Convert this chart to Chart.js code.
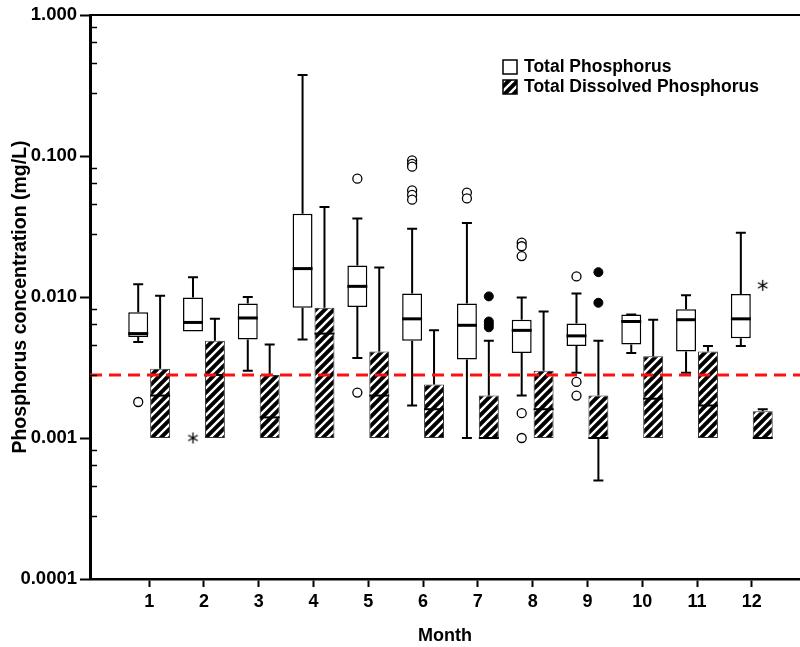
<!DOCTYPE html>
<html>
<head>
<meta charset="utf-8">
<title>Phosphorus concentration by month</title>
<script src="https://cdn.jsdelivr.net/npm/chart.js@4.4.1/dist/chart.umd.min.js"></script>
<style>
  html, body { margin: 0; padding: 0; background: #fff; }
  #wrap { width: 800px; height: 647px; position: relative; }
</style>
</head>
<body>
<div id="wrap"><canvas id="phosChart"></canvas></div>
<script>
/* global Chart */
const months = [1, 2, 3, 4, 5, 6, 7, 8, 9, 10, 11, 12];

// Total phosphorus box statistics (mg/L)
const tpMin = [0.0048, 0.0057, 0.0030, 0.0050, 0.0037, 0.0017, 0.0010, 0.0020, 0.0029, 0.0040, 0.0029, 0.0045];
const tpQ1  = [0.0052, 0.0057, 0.0050, 0.0084, 0.0085, 0.0049, 0.0036, 0.0040, 0.0045, 0.0046, 0.0041, 0.0051];
const tpMed = [0.0055, 0.0066, 0.0071, 0.0159, 0.0119, 0.0070, 0.0063, 0.0058, 0.0053, 0.0067, 0.0069, 0.0070];
const tpQ3  = [0.0078, 0.0099, 0.0090, 0.0390, 0.0167, 0.0106, 0.0090, 0.0069, 0.0065, 0.0075, 0.0082, 0.0105];
const tpMax = [0.0123, 0.0138, 0.0100, 0.3750, 0.0361, 0.0305, 0.0335, 0.0099, 0.0106, 0.0075, 0.0103, 0.0286];

// Total dissolved phosphorus box statistics (mg/L)
const tdpMin = [0.0010, 0.0010, 0.0010, 0.0010, 0.0010, 0.0010, 0.0010, 0.0010, 0.0005, 0.0010, 0.0010, 0.0010];
const tdpQ1  = [0.0010, 0.0010, 0.0010, 0.0010, 0.0010, 0.0010, 0.0010, 0.0010, 0.0010, 0.0010, 0.0010, 0.0010];
const tdpMed = [0.0020, 0.0028, 0.0014, 0.0055, 0.0020, 0.0016, 0.0010, 0.0016, 0.0010, 0.0019, 0.0017, 0.0010];
const tdpQ3  = [0.0031, 0.0049, 0.0028, 0.0084, 0.0041, 0.0024, 0.0020, 0.0030, 0.0020, 0.0038, 0.0041, 0.00155];
const tdpMax = [0.0102, 0.0070, 0.0046, 0.0435, 0.0162, 0.0058, 0.0049, 0.0079, 0.0049, 0.0069, 0.0045, 0.0016];

// outliers (circles) and extremes (stars), one list per month
const tpOutliers = [[0.0018], [], [], [], [0.069, 0.0021], [0.093, 0.088, 0.084, 0.057, 0.053, 0.049],
  [0.055, 0.050], [0.0243, 0.0229, 0.0195, 0.0015, 0.0010], [0.014, 0.0025, 0.0020], [], [], []];
const tpExtremes = [[], [0.0010], [], [], [], [], [], [], [], [], [], []];
const tdpOutliers = [[], [], [], [], [], [], [0.0101, 0.0067, 0.0064, 0.0061], [], [0.0150, 0.0091], [], [], []];
const tdpExtremes = [[], [], [], [], [], [], [], [], [], [], [], [0.0121]];

const threshold = 0.0028;

const yDecades = [0.0001, 0.001, 0.01, 0.1, 1];
const yDecadeLabels = ['0.0001', '0.001', '0.010', '0.100', '1.000'];
const yMinorSteps = [0.28, 0.46, 0.64, 0.82];

const X_MIN = -0.08;
const X_MAX = 12.88;
const SIDE = 0.2; // half distance between the paired boxes, in month units

const FONT = "'Liberation Sans', Arial, Helvetica, sans-serif";
Chart.defaults.font.family = FONT;
Chart.defaults.font.weight = 'bold';
Chart.defaults.color = '#000';

function hatchPattern() {
  const s = 9;
  const c = document.createElement('canvas');
  c.width = s; c.height = s;
  const g = c.getContext('2d');
  g.fillStyle = '#000';
  g.fillRect(0, 0, s, s);
  g.strokeStyle = '#fff';
  g.lineWidth = 2.4;
  g.beginPath();
  g.moveTo(-1, s + 1); g.lineTo(s + 1, -1);
  g.moveTo(-1, 1); g.lineTo(1, -1);
  g.moveTo(s - 1, s + 1); g.lineTo(s + 1, s - 1);
  g.stroke();
  return g.createPattern(c, 'repeat');
}
const hatch = hatchPattern();

// six-spoke asterisk used for extreme values
function asteriskMarker() {
  const s = 13;
  const c = document.createElement('canvas');
  c.width = s; c.height = s;
  const g = c.getContext('2d');
  const r = 5.5;
  g.strokeStyle = '#000';
  g.lineWidth = 1.3;
  g.beginPath();
  [90, 30, 150].forEach(a => {
    const t = a * Math.PI / 180;
    g.moveTo(s / 2 - r * Math.cos(t), s / 2 - r * Math.sin(t));
    g.lineTo(s / 2 + r * Math.cos(t), s / 2 + r * Math.sin(t));
  });
  g.stroke();
  return c;
}
const asterisk = asteriskMarker();

function pointsFor(lists, shift) {
  const pts = [];
  lists.forEach((vals, i) => vals.forEach(v => pts.push({ x: months[i] + shift, y: v })));
  return pts;
}

const yTicks = [];
yDecades.forEach((d, i) => {
  yTicks.push(d);
  if (i < yDecades.length - 1) yMinorSteps.forEach(f => yTicks.push(d * 10 * f));
});
const isDecade = v => yDecades.some(d => Math.abs(v - d) / d < 1e-6);
const decadeLabel = v => {
  const i = yDecades.findIndex(d => Math.abs(v - d) / d < 1e-6);
  return i >= 0 ? yDecadeLabels[i] : '';
};

// whiskers, caps and medians drawn right after each box dataset
const boxPlotPlugin = {
  id: 'boxWhiskers',
  afterDatasetDraw(chart, args) {
    const ds = chart.data.datasets[args.index];
    if (!ds.stats) return;
    const ctx = chart.ctx;
    const y = chart.scales.y;
    const st = ds.stats;
    ctx.save();
    ctx.strokeStyle = '#000';
    args.meta.data.forEach((bar, i) => {
      const x = bar.x;
      const half = bar.width / 2;
      const cap = 5;
      const yq1 = y.getPixelForValue(st.q1[i]);
      const yq3 = y.getPixelForValue(st.q3[i]);
      const ymin = y.getPixelForValue(st.min[i]);
      const ymax = y.getPixelForValue(st.max[i]);
      ctx.lineWidth = 2;
      ctx.beginPath();
      if (ymax < yq3 - 0.5) {
        ctx.moveTo(x, yq3); ctx.lineTo(x, ymax);
      }
      ctx.moveTo(x - cap, ymax); ctx.lineTo(x + cap, ymax);
      if (ymin > yq1 + 0.5) {
        ctx.moveTo(x, yq1); ctx.lineTo(x, ymin);
        ctx.moveTo(x - cap, ymin); ctx.lineTo(x + cap, ymin);
      }
      ctx.stroke();
      const ym = y.getPixelForValue(st.med[i]);
      ctx.lineWidth = ds.medianWidth;
      ctx.beginPath();
      ctx.moveTo(x - half, ym); ctx.lineTo(x + half, ym);
      ctx.stroke();
    });
    ctx.restore();
  }
};

// top frame line, inner minor ticks and the legend
const framePlugin = {
  id: 'frameAndLegend',
  afterDraw(chart) {
    const { ctx, chartArea } = chart;
    const y = chart.scales.y;
    ctx.save();
    ctx.strokeStyle = '#000';
    ctx.lineWidth = 2;
    ctx.beginPath();
    ctx.moveTo(chartArea.left, chartArea.top);
    ctx.lineTo(chartArea.right, chartArea.top);
    ctx.stroke();

    ctx.lineWidth = 1.5;
    ctx.beginPath();
    yTicks.filter(v => !isDecade(v)).forEach(v => {
      const py = Math.round(y.getPixelForValue(v)) + 0.5;
      ctx.moveTo(chartArea.left, py);
      ctx.lineTo(chartArea.left + 7, py);
    });
    ctx.stroke();

    const entries = [
      { text: 'Total Phosphorus', fill: '#fff' },
      { text: 'Total Dissolved Phosphorus', fill: hatch }
    ];
    ctx.font = 'bold 17.5px ' + FONT;
    ctx.textBaseline = 'middle';
    ctx.textAlign = 'left';
    entries.forEach((e, i) => {
      const top = 60 + i * 20;
      ctx.fillStyle = e.fill;
      ctx.fillRect(503, top, 14, 14);
      ctx.lineWidth = 1.5;
      ctx.strokeStyle = '#000';
      ctx.strokeRect(503, top, 14, 14);
      ctx.fillStyle = '#000';
      ctx.fillText(e.text, 524, top + 7.5);
    });
    ctx.restore();
  }
};

new Chart(document.getElementById('phosChart'), {
  type: 'bar',
  data: {
    datasets: [
      {
        type: 'line',
        label: 'threshold',
        data: [{ x: X_MIN, y: threshold }, { x: X_MAX, y: threshold }],
        borderColor: '#ff1010',
        borderWidth: 3,
        borderDash: [12, 7],
        pointRadius: 0,
        fill: false
      },
      {
        type: 'scatter',
        label: 'TP outliers',
        data: pointsFor(tpOutliers, -SIDE),
        pointStyle: 'circle',
        pointRadius: 4.5,
        borderColor: '#000',
        borderWidth: 1.3,
        backgroundColor: '#fff'
      },
      {
        type: 'scatter',
        label: 'TDP outliers',
        data: pointsFor(tdpOutliers, SIDE),
        pointStyle: 'circle',
        pointRadius: 4.5,
        borderColor: '#000',
        borderWidth: 1,
        backgroundColor: '#000'
      },
      {
        type: 'scatter',
        label: 'extremes',
        data: pointsFor(tpExtremes, -SIDE).concat(pointsFor(tdpExtremes, SIDE)),
        pointStyle: asterisk,
        pointRadius: 6
      },
      {
        label: 'Total Phosphorus',
        data: months.map((m, i) => ({ x: m, y: [tpQ1[i], tpQ3[i]] })),
        stats: { min: tpMin, q1: tpQ1, med: tpMed, q3: tpQ3, max: tpMax },
        medianWidth: 3,
        backgroundColor: '#fff',
        borderColor: '#000',
        borderWidth: 1.5,
        borderSkipped: false,
        categoryPercentage: 0.8,
        barPercentage: 0.91
      },
      {
        label: 'Total Dissolved Phosphorus',
        data: months.map((m, i) => ({ x: m, y: [tdpQ1[i], tdpQ3[i]] })),
        stats: { min: tdpMin, q1: tdpQ1, med: tdpMed, q3: tdpQ3, max: tdpMax },
        medianWidth: 2,
        backgroundColor: hatch,
        borderColor: '#333',
        borderWidth: 1,
        borderSkipped: false,
        categoryPercentage: 0.8,
        barPercentage: 0.91
      }
    ]
  },
  options: {
    responsive: true,
    maintainAspectRatio: false,
    animation: false,
    events: [],
    layout: { autoPadding: false, padding: { top: 15, right: 0, bottom: 0, left: 0 } },
    plugins: {
      legend: { display: false },
      tooltip: { enabled: false }
    },
    scales: {
      x: {
        type: 'linear',
        offset: false,
        min: X_MIN,
        max: X_MAX,
        afterBuildTicks: s => { s.ticks = months.map(v => ({ value: v })); },
        afterFit: s => { s.height = 68; s.paddingLeft = 0; s.paddingRight = 0; },
        grid: { offset: false, drawOnChartArea: false, tickLength: 8, tickWidth: 2, tickColor: '#000' },
        border: { color: '#000', width: 2.5 },
        ticks: { font: { size: 18, weight: 'bold' }, padding: 4, maxRotation: 0, callback: v => String(v) },
        title: { display: true, text: 'Month', font: { size: 18, weight: 'bold' }, padding: { top: 0, bottom: 0 } }
      },
      y: {
        type: 'logarithmic',
        min: 0.0001,
        max: 1,
        afterBuildTicks: s => { s.ticks = yTicks.map(v => ({ value: v })); },
        afterFit: s => { s.width = 90; },
        grid: {
          drawOnChartArea: false,
          tickLength: 10,
          tickWidth: 2,
          tickColor: c => (c.tick && isDecade(c.tick.value) ? '#000' : 'rgba(0,0,0,0)')
        },
        border: { color: '#000', width: 3 },
        ticks: { font: { size: 18.5, weight: 'bold' }, padding: 3, autoSkip: false, callback: v => decadeLabel(v) },
        title: {
          display: true,
          text: 'Phosphorus concentration (mg/L)',
          font: { size: 19.5, weight: 'bold' },
          padding: { top: 9, bottom: 0 }
        }
      }
    }
  },
  plugins: [boxPlotPlugin, framePlugin]
});
</script>
</body>
</html>
